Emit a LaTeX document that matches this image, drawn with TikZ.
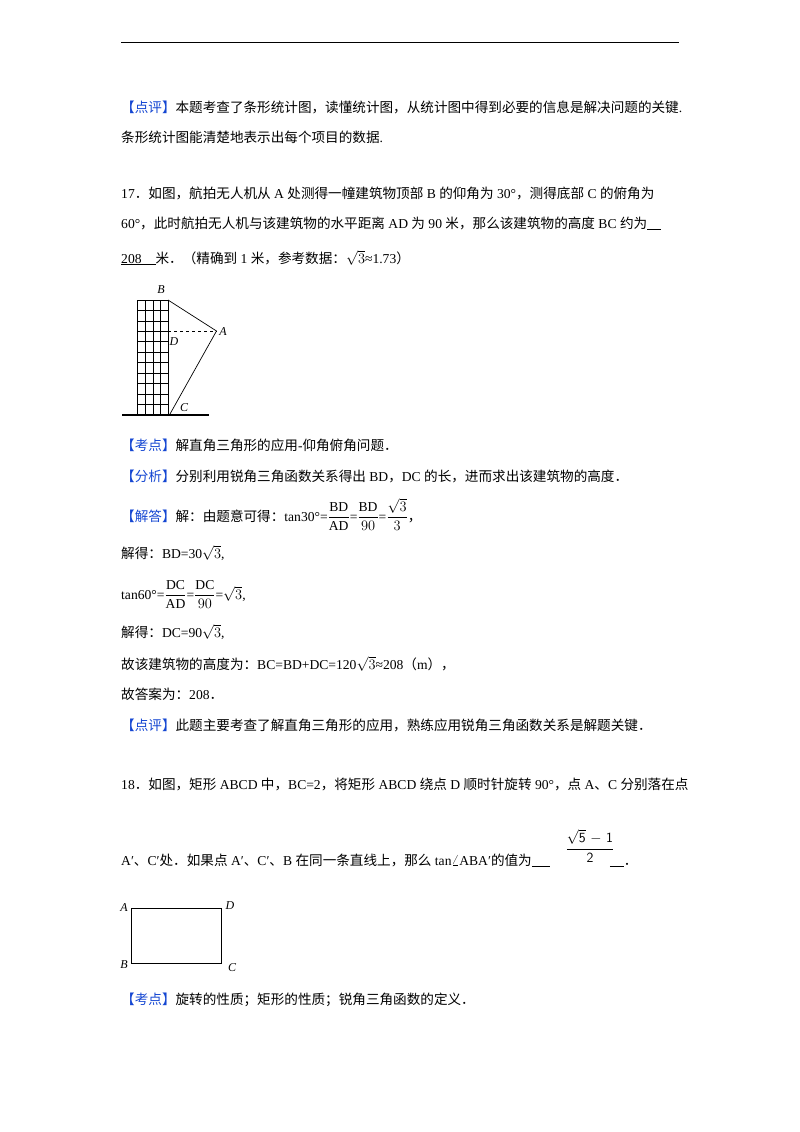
\documentclass[tikz,border=0pt]{standalone}
\usepackage{fontspec}
\setmainfont{Liberation Serif}
\newfontfamily\cjk{Noto Sans CJK SC}
\newcommand\z[1]{{\cjk #1}}
\definecolor{kb}{RGB}{20,70,210}
\newcommand\kd[1]{{\color{kb}\cjk 【#1】}}
\newcommand\df[2]{{\displaystyle\frac{#1}{#2}}}
\begin{document}
\begin{tikzpicture}[x=1pt,y=-1pt,t/.style={anchor=base west,inner sep=0pt,font=\fontsize{13.6}{16}\selectfont},lb/.style={inner sep=0pt,font=\fontsize{12}{14}\selectfont\itshape}]
\useasboundingbox[fill=white] (0,0) rectangle (800,1132);
\draw[line width=0.8pt] (121,42) -- (679,42);
\node[t] (l1) at (121,112) {\kd{点评}\z{本题考查了条形统计图，读懂统计图，从统计图中得到必要的信息是解决问题的关键}.};
\node[t] (l2) at (121,142) {\z{条形统计图能清楚地表示出每个项目的数据}.};
\node[t] (l3) at (121,198) {17\z{．如图，航拍无人机从} A \z{处测得一幢建筑物顶部} B \z{的仰角为} 30°\z{，测得底部} C \z{的俯角为}};
\node[t] (l4) at (121,228) {60°\z{，此时航拍无人机与该建筑物的水平距离} AD \z{为} 90 \z{米，那么该建筑物的高度} BC \z{约为}\underline{\hspace{14pt}}};
\node[t] (l5) at (121,263) {\underline{208\hspace{14pt}}\z{米．（精确到} 1 \z{米，参考数据：}$\sqrt{3}$≈1.73\z{）}};
% building
\foreach \xx in {137,145.5,153,160.5,168} \draw[line width=0.7pt] (\xx,300) -- (\xx,415);
\foreach \k in {0,...,11} \draw[line width=0.7pt] (137,300+\k*10.45) -- (168,300+\k*10.45);
\draw[line width=2.5pt] (122,415) -- (209,415);
\coordinate (B) at (168,300); \coordinate (A) at (216.5,331); \coordinate (D) at (168,331); \coordinate (C) at (170,414);
\draw[line width=0.7pt] (B) -- (A) -- (C);
\draw[line width=0.7pt,dashed] (D) -- (A);
\node[lb] (lB) at (161,290) {B};
\node[lb] (lA) at (223,332) {A};
\node[lb] (lD) at (174,342) {D};
\node[lb] (lC) at (184,408) {C};
\node[t] (k1) at (121,450) {\kd{考点}\z{解直角三角形的应用}-\z{仰角俯角问题．}};
\node[t] (k2) at (121,481) {\kd{分析}\z{分别利用锐角三角函数关系得出} BD\z{，}DC \z{的长，进而求出该建筑物的高度．}};
\node[t] (k3) at (121,521) {\kd{解答}\z{解：由题意可得：}tan30°=$\df{\mathrm{BD}}{\mathrm{AD}}$=$\df{\mathrm{BD}}{90}$=$\df{\sqrt{3}}{3}$\z{，}};
\node[t] (k4) at (121,558) {\z{解得：}BD=30$\sqrt{3}$,};
\node[t] (k5) at (121,599) {tan60°=$\df{\mathrm{DC}}{\mathrm{AD}}$=$\df{\mathrm{DC}}{90}$=$\sqrt{3}$,};
\node[t] (k6) at (121,637) {\z{解得：}DC=90$\sqrt{3}$,};
\node[t] (k7) at (121,669) {\z{故该建筑物的高度为：}BC=BD+DC=120$\sqrt{3}$≈208\z{（}m\z{），}};
\node[t] (k8) at (121,699) {\z{故答案为：}208\z{．}};
\node[t] (k9) at (121,730) {\kd{点评}\z{此题主要考查了解直角三角形的应用，熟练应用锐角三角函数关系是解题关键．}};
\node[t] (q1) at (121,789) {18\z{．如图，矩形} ABCD \z{中，}BC=2\z{，将矩形} ABCD \z{绕点} D \z{顺时针旋转} 90°\z{，点} A\z{、}C \z{分别落在点}};
\node[t] (q2) at (121,865) {A′\z{、}C′\z{处．如果点} A′\z{、}C′\z{、}B \z{在同一条直线上，那么} tan$\angle$ABA′\z{的值为}\underline{\hspace{18pt}}\hspace{60pt}\underline{\hspace{14pt}}\z{．}};
\node[inner sep=0pt,font=\sffamily\fontsize{14}{16}\selectfont] (fr) at (590,846) {$\df{\sqrt{\mathsf{5}}\ \mathsf{-\ 1}}{\mathsf{2}}$};
% rectangle
\draw[line width=0.8pt] (131.5,908) rectangle (221.5,963);
\node[lb] (rA) at (124,908) {A};
\node[lb] (rD) at (230,906) {D};
\node[lb] (rB) at (124,965) {B};
\node[lb] (rC) at (232,968) {C};
\node[t] (k10) at (121,1004) {\kd{考点}\z{旋转的性质；矩形的性质；锐角三角函数的定义．}};
\end{tikzpicture}
\end{document}
